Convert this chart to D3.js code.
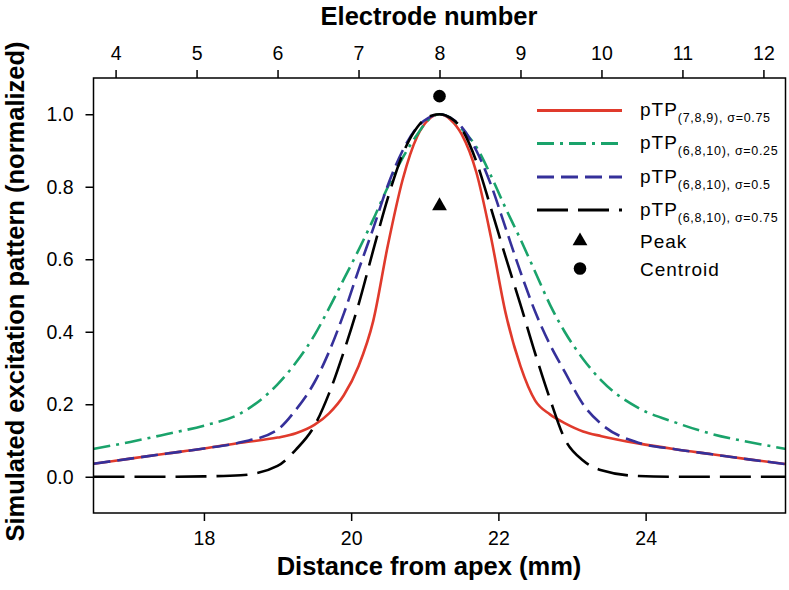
<!DOCTYPE html>
<html>
<head>
<meta charset="utf-8">
<script src="https://cdn.jsdelivr.net/npm/d3@7"></script>
<style>
  html, body { margin: 0; padding: 0; background: #fff; }
  svg { display: block; font-family: "Liberation Sans", Arial, sans-serif; }
</style>
</head>
<body>
<svg id="chart" width="789" height="590"></svg>
<script>
// ---- Data ----
const xMM = [16.5, 17, 17.5, 18, 18.5, 19, 19.25, 19.5, 19.7, 19.9, 20.1, 20.3, 20.5, 20.7, 20.9, 21.05,
             21.2,
             21.35, 21.5, 21.7, 21.9, 22.1, 22.3, 22.5, 22.7, 22.9, 23.15, 23.4, 23.9, 24.4, 24.9, 25.4, 25.9];

const red789_075 = [0.036, 0.050, 0.064, 0.078, 0.094, 0.108, 0.120, 0.143, 0.175, 0.225, 0.305, 0.43, 0.64, 0.82, 0.94, 0.985,
                    1.0,
                    0.985, 0.945, 0.84, 0.66, 0.45, 0.305, 0.21, 0.172, 0.148, 0.125, 0.112, 0.092, 0.076, 0.062, 0.048, 0.035];

const green6810_025 = [0.077, 0.096, 0.118, 0.141, 0.175, 0.255, 0.315, 0.39, 0.465, 0.545, 0.625, 0.71, 0.80, 0.88, 0.945, 0.985,
                       1.0,
                       0.99, 0.96, 0.91, 0.83, 0.74, 0.655, 0.565, 0.475, 0.40, 0.325, 0.265, 0.19, 0.15, 0.118, 0.096, 0.077];

const blue6810_05 = [0.036, 0.050, 0.064, 0.078, 0.095, 0.13, 0.185, 0.26, 0.345, 0.45, 0.57, 0.685, 0.805, 0.90, 0.965, 0.99,
                     1.0,
                     0.99, 0.965, 0.90, 0.805, 0.685, 0.565, 0.455, 0.365, 0.29, 0.20, 0.145, 0.094, 0.076, 0.062, 0.048, 0.035];

const black6810_075 = [0.0, 0.0, 0.0, 0.001, 0.004, 0.03, 0.075, 0.14, 0.23, 0.345, 0.475, 0.625, 0.77, 0.89, 0.965, 0.993,
                       1.0,
                       0.99, 0.96, 0.87, 0.74, 0.605, 0.475, 0.34, 0.215, 0.105, 0.045, 0.018, 0.002, 0.0, 0.0, 0.0, 0.0];

const peakX = [21.2], peakY = [0.75];
const centroidX = [21.2], centroidY = [1.05];

const yTicks = [0.0, 0.2, 0.4, 0.6, 0.8, 1.0];
const xTicks = [18, 20, 22, 24];
const electrodes = [4, 5, 6, 7, 8, 9, 10, 11, 12];
const electrodeMM = [16.8, 17.9, 19.0, 20.1, 21.2, 22.3, 23.4, 24.5, 25.6];

const seriesNames = ["(7,8,9), σ=0.75", "(6,8,10), σ=0.25", "(6,8,10), σ=0.5", "(6,8,10), σ=0.75"];
const seriesColors = ["#e03a2c", "#1aa36b", "#35309a", "#000000"];
const seriesDash = [null, "17,6,3,6", "17,7", "31,10"];
const seriesValues = [red789_075, green6810_025, blue6810_05, black6810_075];

// ---- Layout ----
const W = 789, H = 590;
const m = { left: 93.5, right: 3.5, top: 78, bottom: 77 };
const svg = d3.select("#chart");

const x = d3.scaleLinear().domain([16.5, 25.9]).range([m.left, W - m.right]);
const y = d3.scaleLinear().domain([-0.1, 1.1]).range([H - m.bottom, m.top]);

svg.append("defs").append("clipPath").attr("id", "clip")
  .append("rect").attr("x", m.left).attr("y", m.top)
  .attr("width", W - m.left - m.right).attr("height", H - m.top - m.bottom);

// Curves
const line = d3.line().x(d => x(d[0])).y(d => y(d[1])).curve(d3.curveMonotoneX);
const g = svg.append("g").attr("clip-path", "url(#clip)");
seriesValues.forEach((vals, i) => {
  const pts = xMM.map((v, k) => [v, vals[k]]);
  g.append("path").datum(pts)
    .attr("d", line)
    .attr("fill", "none")
    .attr("stroke", seriesColors[i])
    .attr("stroke-width", 2.6)
    .attr("stroke-dasharray", seriesDash[i]);
});

// Peak / centroid markers
const tri = d3.symbol().type(d3.symbolTriangle).size(95);
svg.append("g").selectAll("path").data(peakX).join("path")
  .attr("d", tri)
  .attr("transform", (d, i) => `translate(${x(d)},${y(peakY[i]) + 1})`)
  .attr("fill", "#000");
svg.append("g").selectAll("circle").data(centroidX).join("circle")
  .attr("cx", d => x(d)).attr("cy", (d, i) => y(centroidY[i])).attr("r", 6.3)
  .attr("fill", "#000");

// Frame
svg.append("rect").attr("x", m.left).attr("y", m.top)
  .attr("width", W - m.left - m.right).attr("height", H - m.top - m.bottom)
  .attr("fill", "none").attr("stroke", "#000").attr("stroke-width", 1.5);

// Axes
const tickFont = "19.5px";
const axB = svg.append("g").attr("transform", `translate(0,${H - m.bottom})`)
  .call(d3.axisBottom(x).tickValues(xTicks).tickFormat(d3.format("d")).tickSize(8).tickPadding(10));
const axL = svg.append("g").attr("transform", `translate(${m.left},0)`)
  .call(d3.axisLeft(y).tickValues(yTicks).tickFormat(d3.format(".1f")).tickSize(8).tickPadding(12));
const axT = svg.append("g").attr("transform", `translate(0,${m.top})`)
  .call(d3.axisTop(x).tickValues(electrodeMM).tickFormat((d, i) => electrodes[i]).tickSize(8).tickPadding(10.5));
[axB, axL, axT].forEach(a => {
  a.select(".domain").remove();
  a.selectAll(".tick line").attr("stroke", "#000").attr("stroke-width", 1.5);
  a.selectAll(".tick text").attr("fill", "#000").style("font-size", tickFont)
    .style("font-family", "'Liberation Sans', Arial, sans-serif");
});

// Titles
svg.append("text").attr("x", 429).attr("y", 25).attr("text-anchor", "middle")
  .style("font-size", "25.5px").style("font-weight", "bold").text("Electrode number");
svg.append("text").attr("x", 429).attr("y", 575).attr("text-anchor", "middle")
  .style("font-size", "25.5px").style("font-weight", "bold").text("Distance from apex (mm)");
svg.append("text").attr("transform", `translate(24,${(m.top + H - m.bottom) / 2 - 4}) rotate(-90)`)
  .attr("text-anchor", "middle")
  .style("font-size", "25.5px").style("font-weight", "bold").text("Simulated excitation pattern (normalized)");

// Legend
const legY = [110.5, 143.5, 177, 210];
const lg = svg.append("g");
seriesNames.forEach((name, i) => {
  lg.append("line").attr("x1", 537).attr("x2", 622).attr("y1", legY[i]).attr("y2", legY[i])
    .attr("stroke", seriesColors[i]).attr("stroke-width", 2.8)
    .attr("stroke-dasharray", seriesDash[i]);
  const t = lg.append("text").attr("x", 640).attr("y", legY[i] + 5.5)
    .style("font-size", "19px").style("letter-spacing", "1px");
  t.append("tspan").text("pTP");
  t.append("tspan").attr("dy", 6).style("font-size", "12.5px").style("letter-spacing", "0.7px").text(name);
});
lg.append("path").attr("d", tri).attr("transform", "translate(580,241)").attr("fill", "#000");
lg.append("circle").attr("cx", 580).attr("cy", 268.5).attr("r", 6.3).attr("fill", "#000");
lg.append("text").attr("x", 640).attr("y", 248).style("font-size", "19px").style("letter-spacing", "1px").text("Peak");
lg.append("text").attr("x", 640).attr("y", 275.5).style("font-size", "19px").style("letter-spacing", "1px").text("Centroid");
</script>
</body>
</html>
